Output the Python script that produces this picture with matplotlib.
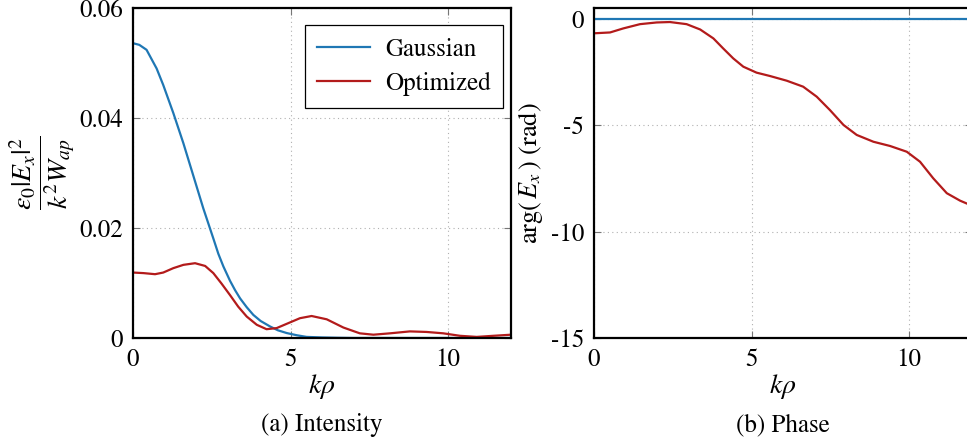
import matplotlib as mpl
mpl.use("Agg")
import matplotlib.pyplot as plt

# values
kr_gauss = [0.0, 0.2, 0.43, 0.75, 0.96, 1.28, 1.6, 1.91, 2.23, 2.55, 2.71, 2.87,
            3.08, 3.24, 3.40, 3.61, 3.82, 4.05, 4.35, 4.6, 4.88, 5.2, 5.51, 6.0,
            6.5, 7.0, 8.0, 10.0, 12.0]
int_gauss = [0.0536, 0.0533, 0.0524, 0.0490, 0.0460, 0.0409, 0.0354, 0.0296,
             0.0236, 0.0181, 0.0153, 0.0130, 0.0104, 0.0087, 0.0072, 0.0056,
             0.0042, 0.0031, 0.0021, 0.0014, 0.0009, 0.0005, 0.0002, 0.0001,
             0.00004, 0.0, 0.0, 0.0, 0.0]

kr_opt = [0.0, 0.33, 0.70, 0.96, 1.28, 1.60, 1.97, 2.29, 2.55, 2.81, 3.08, 3.34,
          3.61, 3.93, 4.24, 4.56, 4.93, 5.30, 5.67, 6.15, 6.68, 7.2, 7.63, 8.16,
          8.79, 9.32, 9.85, 10.38, 10.91, 11.44, 12.0]
int_opt = [0.0119, 0.0118, 0.0116, 0.0119, 0.0127, 0.0133, 0.0136, 0.0131,
           0.0118, 0.0099, 0.0078, 0.0057, 0.0039, 0.0024, 0.0016, 0.0018,
           0.0027, 0.0036, 0.0040, 0.0034, 0.0019, 0.00085, 0.0006, 0.00085,
           0.0012, 0.0011, 0.00085, 0.0004, 0.0002, 0.0004, 0.0006]

kr_phase = [0.0, 0.51, 0.93, 1.46, 1.99, 2.41, 2.94, 3.37, 3.79, 4.10, 4.42,
            4.74, 5.16, 5.59, 6.12, 6.64, 7.07, 7.49, 7.92, 8.34, 8.87, 9.40,
            9.93, 10.35, 10.77, 11.2, 11.62, 12.0]
phase_opt = [-0.67, -0.63, -0.44, -0.24, -0.16, -0.14, -0.24, -0.49, -0.91,
             -1.38, -1.85, -2.24, -2.52, -2.68, -2.90, -3.18, -3.65, -4.28,
             -4.98, -5.45, -5.77, -5.97, -6.24, -6.71, -7.49, -8.19, -8.54,
             -8.78]
kr_flat = [0.0, 12.0]
phase_gauss = [0.0, 0.0]

blue = "#1f77b4"
red = "#b31b1b"

plt.rcParams['font.family'] = ['STIXGeneral', 'DejaVu Serif']
plt.rcParams['mathtext.fontset'] = 'stix'
plt.rcParams['font.size'] = 18


def style(ax):
    for s in ax.spines.values():
        s.set_linewidth(1.6)
    ax.grid(True, color="#b0b0b0", linestyle=(0, (1, 3)), linewidth=0.8)
    ax.tick_params(direction="in", length=5, width=0.8, color="#777777",
                   top=True, right=True, labelsize=18, pad=7)
    ax.set_xlim(0, 12)
    ax.set_xticks([0, 5, 10])


fig = plt.figure(figsize=(9.67, 4.45), dpi=100)

ax1 = fig.add_axes([133 / 967, 107 / 445, 378 / 967, 330 / 445])
ax1.plot(kr_gauss, int_gauss, color=blue, lw=1.6, label="Gaussian")
ax1.plot(kr_opt, int_opt, color=red, lw=1.6, label="Optimized")
style(ax1)
ax1.set_ylim(0, 0.06)
ax1.set_yticks([0, 0.02, 0.04, 0.06])
ax1.set_yticklabels(["0", "0.02", "0.04", "0.06"])
ax1.set_xlabel(r"$k\rho$", fontsize=20, labelpad=0)
ax1.set_ylabel(r"$\dfrac{\varepsilon_0|E_x|^2}{k^2W_{ap}}$", fontsize=20, labelpad=2)
leg = ax1.legend(loc="upper right", fancybox=False, edgecolor="black",
                 framealpha=1, fontsize=18, borderpad=0.5, handlelength=2.1,
                 handletextpad=0.6, labelspacing=0.4, borderaxespad=0,
                 bbox_to_anchor=(0.979, 0.948))
leg.get_frame().set_linewidth(0.9)
ax1.text(0.5, -0.265, "(a) Intensity", transform=ax1.transAxes,
         ha="center", va="center", fontsize=18)

ax2 = fig.add_axes([594 / 967, 107 / 445, 378 / 967, 330 / 445])
ax2.plot(kr_flat, phase_gauss, color=blue, lw=1.6)
ax2.plot(kr_phase, phase_opt, color=red, lw=1.6)
style(ax2)
ax2.set_ylim(-15, 0.52)
ax2.set_yticks([0, -5, -10, -15])
ax2.set_yticklabels(["0", "-5", "-10", "-15"])
ax2.set_xlabel(r"$k\rho$", fontsize=20, labelpad=0)
ax2.set_ylabel(r"arg$(\,E_x\,)$ (rad)", fontsize=19, labelpad=4)
ax2.text(0.5, -0.265, "(b) Phase", transform=ax2.transAxes,
         ha="center", va="center", fontsize=18)

fig.savefig("out.png", dpi=100)
